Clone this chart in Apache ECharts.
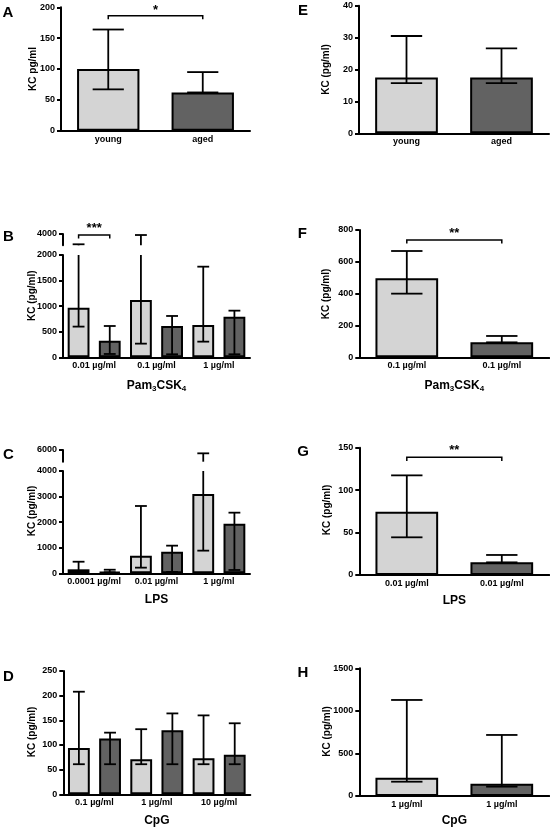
<!DOCTYPE html>
<html><head><meta charset="utf-8">
<script src="https://cdn.jsdelivr.net/npm/echarts@6/dist/echarts.min.js"></script>
<style>html,body{margin:0;padding:0;background:#fff}#c{width:550px;height:832px}</style>
</head><body><div id="c"></div>
<script>
// ================= DATA =================
// Panel A (young vs aged, KC pg/ml)
const A_labels = ['young', 'aged'];
const A_mean = [100, 62];
const A_low = [67, 62];
const A_high = [164, 95];
// Panel E
const E_labels = ['young', 'aged'];
const E_mean = [17.5, 17.5];
const E_low = [15.7, 15.7];
const E_high = [30.5, 26.6];
// Panel B (Pam3CSK4)
const B_groups = ['0.01 µg/ml', '0.1 µg/ml', '1 µg/ml'];
const B_youngMean = [970, 1120, 632];
const B_youngLow = [600, 267, 306];
const B_youngHigh = [2180, 3820, 1772];
const B_agedMean = [326, 612, 795];
const B_agedLow = [65, 59, 59];
const B_agedHigh = [612, 808, 912];
// Panel F
const F_labels = ['0.1 µg/ml', '0.1 µg/ml'];
const F_mean = [496, 94];
const F_low = [400, 94];
const F_high = [668, 134];
// Panel C (LPS)
const C_groups = ['0.0001 µg/ml', '0.01 µg/ml', '1 µg/ml'];
const C_youngMean = [156, 690, 3100];
const C_youngLow = [90, 221, 886];
const C_youngHigh = [453, 2632, 5430];
const C_agedMean = [55, 847, 1941];
const C_agedLow = [40, 52, 130];
const C_agedHigh = [140, 1081, 2371];
// Panel G
const G_labels = ['0.01 µg/ml', '0.01 µg/ml'];
const G_mean = [74.6, 14.9];
const G_low = [44.4, 14.9];
const G_high = [117.4, 23.6];
// Panel D (CpG)
const D_groups = ['0.1 µg/ml', '1 µg/ml', '10 µg/ml'];
const D_youngMean = [94, 71, 73];
const D_youngLow = [61, 61, 61];
const D_youngHigh = [208, 132, 160];
const D_agedMean = [113, 130, 80];
const D_agedLow = [61, 61, 61];
const D_agedHigh = [125, 164, 144];
// Panel H
const H_labels = ['1 µg/ml', '1 µg/ml'];
const H_mean = [215, 145];
const H_low = [168, 110];
const H_high = [1128, 717];

// ================= STYLE / LAYOUT =================
const FONT = '"Liberation Sans", Arial, sans-serif';
const LIGHT = '#d4d4d4', DARK = '#626262';
const grids = [
  {left: 61, top: 7.3, width: 189, height: 123.4},     // 0 A
  {left: 359, top: 5.7, width: 190, height: 127.6},    // 1 E
  {left: 63, top: 255, width: 187, height: 102.3},     // 2 B lower
  {left: 63, top: 234, width: 187, height: 11.3},      // 3 B upper
  {left: 359.3, top: 230, width: 190, height: 127.3},  // 4 F
  {left: 63, top: 471, width: 187, height: 102.3},     // 5 C lower
  {left: 63, top: 450, width: 187, height: 11.7},      // 6 C upper
  {left: 359.3, top: 447.7, width: 190, height: 127.3},// 7 G
  {left: 63.3, top: 671, width: 187, height: 123.3},   // 8 D
  {left: 359.3, top: 668.3, width: 190, height: 127.7} // 9 H
].map(g => Object.assign({containLabel: false, outerBoundsMode: 'none'}, g));

const pamName = 'Pam{s|3}CSK{s|4}';
const nameRich = {
  s: {fontSize: 8, fontWeight: 'bold', fontFamily: FONT, padding: [6, 0, 0, 0], verticalAlign: 'top', color: '#000'}
};

function xCat(gi, data, opts) {
  opts = opts || {};
  const ax = {
    type: 'category', gridIndex: gi, data: data.map((d, i) => i),
    show: opts.show !== false,
    axisLine: {show: true, onZero: false, lineStyle: {color: '#000', width: 2}},
    axisTick: {show: false},
    axisLabel: {interval: 0, margin: 4, color: '#000', fontSize: 9, fontWeight: 'bold', fontFamily: FONT,
      formatter: (v, i) => data[i]},
    splitLine: {show: false}
  };
  if (opts.name) {
    ax.name = opts.name;
    ax.nameLocation = 'middle';
    ax.nameGap = opts.nameGap || 20;
    ax.nameTextStyle = {color: '#000', fontSize: 12, fontWeight: 'bold', fontFamily: FONT, verticalAlign: 'top', rich: nameRich};
  }
  return ax;
}
function yVal(gi, min, max, interval, opts) {
  opts = opts || {};
  return {
    type: 'value', gridIndex: gi, min, max, interval,
    axisLine: {show: true, lineStyle: {color: '#000', width: 2}},
    axisTick: {show: true, length: 4, lineStyle: {color: '#000', width: 2}},
    splitLine: {show: false},
    axisLabel: {margin: 6, color: '#000', fontSize: 9, fontWeight: 'bold', fontFamily: FONT,
      showMinLabel: opts.hideMin ? false : true,
      formatter: v => String(v)}
  };
}

function twoBar(gi, mean) {
  return {type: 'bar', xAxisIndex: gi, yAxisIndex: gi, barWidth: '66%', z: 2,
    data: mean.map((v, i) => ({value: v, itemStyle: {color: i ? DARK : LIGHT}})),
    itemStyle: {borderColor: '#000', borderWidth: 2}};
}
function sixBar(gi, young, aged) {
  return [
    {type: 'bar', xAxisIndex: gi, yAxisIndex: gi, barWidth: '35%', barGap: '42.86%', z: 2, data: young,
      itemStyle: {color: LIGHT, borderColor: '#000', borderWidth: 2}},
    {type: 'bar', xAxisIndex: gi, yAxisIndex: gi, barWidth: '35%', barGap: '42.86%', z: 2, data: aged,
      itemStyle: {color: DARK, borderColor: '#000', borderWidth: 2}}
  ];
}
// error bars; offSign: -1/0/+1 (quarter band offset), capFrac: cap width as fraction of band
function errSeries(gi, low, high, offSign, capFrac, clipMin, clipMax) {
  const data = [];
  low.forEach((lo, i) => { if (high[i] > clipMin) data.push([i, lo, high[i]]); });
  const ls = {stroke: '#000', lineWidth: 1.8};
  return {
    type: 'custom', xAxisIndex: gi, yAxisIndex: gi, clip: false, z: 5, silent: true,
    data, encode: {x: 0, y: [1, 2]},
    renderItem(params, api) {
      const ci = api.value(0), lo = api.value(1), hi = api.value(2);
      const band = api.size([1, 0])[0];
      const x = api.coord([ci, clipMin])[0] + offSign * band / 4;
      const loC = Math.max(lo, clipMin), hiC = Math.min(hi, clipMax);
      const y0 = api.coord([ci, loC])[1], y1 = api.coord([ci, hiC])[1];
      const c = capFrac * band / 2;
      const ch = [{type: 'line', shape: {x1: x, y1: y0, x2: x, y2: y1}, style: ls}];
      if (hi <= clipMax) ch.push({type: 'line', shape: {x1: x - c, y1: y1, x2: x + c, y2: y1}, style: ls});
      if (lo >= clipMin && lo < hi) ch.push({type: 'line', shape: {x1: x - c, y1: y0, x2: x + c, y2: y0}, style: ls});
      return {type: 'group', children: ch};
    }
  };
}
// significance bracket
function sigSeries(gi, c0, off0, c1, off1, yv, label, textLift) {
  return {
    type: 'custom', xAxisIndex: gi, yAxisIndex: gi, clip: false, z: 6, silent: true,
    data: [[c0, c1, yv]], encode: {x: [0, 1], y: 2},
    renderItem(params, api) {
      const band = api.size([1, 0])[0];
      const p0 = api.coord([api.value(0), api.value(2)]);
      const p1 = api.coord([api.value(1), api.value(2)]);
      const xa = p0[0] + off0 * band / 4, xb = p1[0] + off1 * band / 4, y = p0[1];
      return {type: 'group', children: [
        {type: 'polyline', shape: {points: [[xa, y + 3.6], [xa, y], [xb, y], [xb, y + 3.6]]},
          style: {stroke: '#000', lineWidth: 1.5, fill: null}},
        {type: 'text', style: {text: label, x: (xa + xb) / 2, y: y - textLift, align: 'center', verticalAlign: 'middle',
          fontSize: 13, fontWeight: 'bold', fontFamily: FONT, fill: '#000'}}
      ]};
    }
  };
}

const xAxes = [
  xCat(0, A_labels),
  xCat(1, E_labels),
  xCat(2, B_groups, {name: pamName, nameGap: 21}),
  xCat(3, B_groups, {show: false}),
  xCat(4, F_labels, {name: pamName, nameGap: 21}),
  xCat(5, C_groups, {name: 'LPS', nameGap: 20}),
  xCat(6, C_groups, {show: false}),
  xCat(7, G_labels, {name: 'LPS', nameGap: 19.5}),
  xCat(8, D_groups, {name: 'CpG', nameGap: 20}),
  xCat(9, H_labels, {name: 'CpG', nameGap: 18.5})
];
const yAxes = [
  yVal(0, 0, 200, 50),
  yVal(1, 0, 40, 10),
  yVal(2, 0, 2000, 500),
  yVal(3, 2000, 4000, 2000, {hideMin: true}),
  yVal(4, 0, 800, 200),
  yVal(5, 0, 4000, 1000),
  yVal(6, 4000, 6000, 2000, {hideMin: true}),
  yVal(7, 0, 150, 50),
  yVal(8, 0, 250, 50),
  yVal(9, 0, 1500, 500)
];

const series = [];
// two-bar panels
[[0, A_mean, A_low, A_high, 0, 200], [1, E_mean, E_low, E_high, 0, 40], [4, F_mean, F_low, F_high, 0, 800],
 [7, G_mean, G_low, G_high, 0, 150], [9, H_mean, H_low, H_high, 0, 1500]].forEach(p => {
  series.push(twoBar(p[0], p[1]));
  series.push(errSeries(p[0], p[2], p[3], 0, 0.33, p[4], p[5]));
});
// six-bar panels (with optional broken axis)
[[2, 3, B_youngMean, B_youngLow, B_youngHigh, B_agedMean, B_agedLow, B_agedHigh, 2000, 4000],
 [5, 6, C_youngMean, C_youngLow, C_youngHigh, C_agedMean, C_agedLow, C_agedHigh, 4000, 6000],
 [8, null, D_youngMean, D_youngLow, D_youngHigh, D_agedMean, D_agedLow, D_agedHigh, 250, null]].forEach(p => {
  sixBar(p[0], p[2], p[5]).forEach(s => series.push(s));
  series.push(errSeries(p[0], p[3], p[4], -1, 0.19, 0, p[8]));
  series.push(errSeries(p[0], p[6], p[7], 1, 0.19, 0, p[8]));
  if (p[1] !== null) {
    series.push(errSeries(p[1], p[3], p[4], -1, 0.19, p[8], p[9]));
    series.push(errSeries(p[1], p[6], p[7], 1, 0.19, p[8], p[9]));
  }
});
// significance
series.push(sigSeries(0, 0, 0, 1, 0, 186.4, '*', 5));
series.push(sigSeries(3, 0, -1, 0, 1, 3823, '***', 7));
series.push(sigSeries(4, 0, 0, 1, 0, 737, '**', 7));
series.push(sigSeries(7, 0, 0, 1, 0, 138.7, '**', 7));

// titles / letters
const yTitles = [
  ['KC pg/ml', 32.8, 69], ['KC (pg/ml)', 326.7, 69.5],
  ['KC (pg/ml)', 32.3, 295.7], ['KC (pg/ml)', 326.7, 294],
  ['KC (pg/ml)', 32.3, 511], ['KC (pg/ml)', 327.3, 510],
  ['KC (pg/ml)', 32.5, 732], ['KC (pg/ml)', 327, 731.5]
];
const letters = [['A', 8, 13.3], ['E', 303, 10.5], ['B', 8.5, 236.7], ['F', 302.3, 234.2],
  ['C', 8.5, 455], ['G', 303, 452.3], ['D', 8.5, 676.7], ['H', 303, 672.5]];
const graphic = [];
yTitles.forEach(t => graphic.push({type: 'text', x: t[1], y: t[2], rotation: Math.PI / 2, silent: true,
  style: {text: t[0], x: 0, y: 0, align: 'center', verticalAlign: 'middle', fontSize: 10, fontWeight: 'bold', fontFamily: FONT, fill: '#000'}}));
letters.forEach(t => graphic.push({type: 'text', x: t[1], y: t[2], silent: true,
  style: {text: t[0], x: 0, y: 0, align: 'center', verticalAlign: 'middle', fontSize: 15, fontWeight: 'bold', fontFamily: FONT, fill: '#000'}}));

const chart = echarts.init(document.getElementById('c'), null, {renderer: 'canvas', width: 550, height: 832});
chart.setOption({
  animation: false,
  backgroundColor: '#fff',
  grid: grids,
  xAxis: xAxes,
  yAxis: yAxes,
  series,
  graphic
});
</script></body></html>
